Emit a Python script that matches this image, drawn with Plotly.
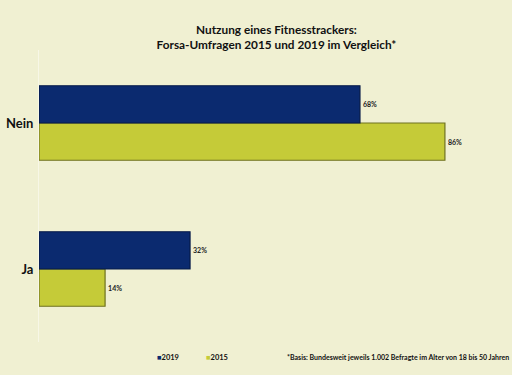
import plotly.graph_objects as go

categories = ["Ja", "Nein"]
years = ["2015", "2019"]
values_2015 = [14, 86]
values_2019 = [32, 68]
title_lines = ["Nutzung eines Fitnesstrackers:", "Forsa-Umfragen 2015 und 2019 im Vergleich*"]
footnote = "*Basis: Bundesweit jeweils 1.002 Befragte im Alter von 18 bis 50 Jahren"

BG = "#F0F0D2"
FONT = "Lato, 'Open Sans', sans-serif"
C2015 = "#C5CB38"
C2019 = "#0B2A6F"

fig = go.Figure()
fig.add_trace(go.Bar(
    y=categories, x=values_2015, name=years[0], orientation="h",
    marker=dict(color=C2015, line=dict(color="#6F7220", width=1.2)),
    text=[f"<b>{v}%</b>" for v in values_2015], textposition="outside",
    textfont=dict(size=7, color="#222222", family=FONT),
    cliponaxis=False,
))
fig.add_trace(go.Bar(
    y=categories, x=values_2019, name=years[1], orientation="h",
    marker=dict(color=C2019, line=dict(color="#061a48", width=1.2)),
    text=[f"<b>{v}%</b>" for v in values_2019], textposition="outside",
    textfont=dict(size=7, color="#222222", family=FONT),
    cliponaxis=False,
))

legend_items = [(years[1], C2019, 0.245), (years[0], C2015, 0.35)]
annotations = []
for label, col, xp in legend_items:
    annotations.append(dict(
        text=f"<span style='color:{col}'>■</span><b>{label}</b>",
        xref="paper", yref="paper", x=xp, y=-0.03, xanchor="left", yanchor="top",
        showarrow=False, font=dict(size=7.5, family=FONT, color="#111111")))
annotations.append(dict(text="<b>" + footnote + "</b>", xref="paper", yref="paper",
                        x=1.0, y=-0.03, xanchor="right", yanchor="top", showarrow=False,
                        font=dict(size=7, family=FONT, color="#111111")))

fig.update_layout(
    width=512, height=375,
    paper_bgcolor=BG, plot_bgcolor=BG,
    margin=dict(l=39, r=1, t=50, b=33),
    barmode="group", bargap=0.49, bargroupgap=0,
    title=dict(text="<b>" + "<br>".join(title_lines) + "</b>",
               x=0.54, xanchor="center", y=0.91, yanchor="top",
               font=dict(size=11.8, family=FONT, color="#111111")),
    xaxis=dict(range=[0, 100], showgrid=False, zeroline=False, automargin=False,
               showticklabels=False, showline=False, fixedrange=True),
    yaxis=dict(categoryorder="array", categoryarray=categories, automargin=False,
               showgrid=False, zeroline=False, showline=True,
               linecolor="#F7F7E6", linewidth=1,
               ticks="", ticklabelstandoff=2,
               tickfont=dict(size=13, family=FONT, color="#111111"),
               tickprefix="<b>", ticksuffix="</b>"),
    showlegend=False,
    annotations=annotations,
)

fig.write_html("out.html", config={"displayModeBar": False},
               post_script="document.body.style.margin='0';")
